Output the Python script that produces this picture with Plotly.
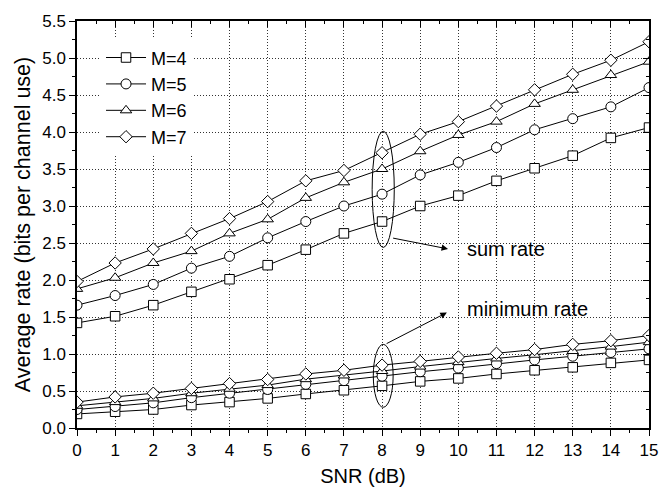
import plotly.graph_objects as go

snr = list(range(16))
m_labels = ["M=4", "M=5", "M=6", "M=7"]
symbols = ["square", "circle", "triangle-up", "diamond"]
marker_sizes = [9.5, 10, 10, 9.5]

sum_m4 = [1.42, 1.51, 1.66, 1.84, 2.01, 2.20, 2.41, 2.63, 2.79, 3.00, 3.14, 3.34, 3.51, 3.68, 3.92, 4.06]
sum_m5 = [1.66, 1.79, 1.94, 2.16, 2.32, 2.57, 2.79, 3.00, 3.16, 3.42, 3.59, 3.79, 4.03, 4.18, 4.34, 4.60]
sum_m6 = [1.88, 2.03, 2.23, 2.39, 2.63, 2.82, 3.11, 3.32, 3.50, 3.74, 3.96, 4.14, 4.38, 4.57, 4.77, 4.95]
sum_m7 = [1.98, 2.23, 2.42, 2.63, 2.83, 3.06, 3.34, 3.48, 3.72, 3.97, 4.14, 4.35, 4.57, 4.78, 4.97, 5.22]

min_m4 = [0.19, 0.22, 0.25, 0.31, 0.35, 0.40, 0.46, 0.51, 0.57, 0.63, 0.67, 0.73, 0.78, 0.82, 0.88, 0.92]
min_m5 = [0.25, 0.29, 0.34, 0.41, 0.47, 0.52, 0.59, 0.64, 0.70, 0.76, 0.81, 0.87, 0.92, 0.97, 1.02, 1.07]
min_m6 = [0.30, 0.35, 0.40, 0.47, 0.53, 0.58, 0.66, 0.71, 0.77, 0.83, 0.89, 0.94, 0.99, 1.04, 1.10, 1.16]
min_m7 = [0.35, 0.42, 0.47, 0.535, 0.60, 0.655, 0.73, 0.78, 0.85, 0.90, 0.96, 1.01, 1.06, 1.13, 1.18, 1.25]

sum_series = [sum_m4, sum_m5, sum_m6, sum_m7]
min_series = [min_m4, min_m5, min_m6, min_m7]

FONT = "Liberation Sans, Arial, sans-serif"

fig = go.Figure()
for lab, sym, ms, ys in zip(m_labels, symbols, marker_sizes, sum_series):
    fig.add_trace(go.Scatter(
        x=snr, y=ys, mode="lines+markers", name=lab,
        line=dict(color="black", width=1),
        marker=dict(symbol=sym, size=ms, color="white", line=dict(color="black", width=1)),
        legendgroup=lab,
    ))
for lab, sym, ms, ys in zip(m_labels, symbols, marker_sizes, min_series):
    fig.add_trace(go.Scatter(
        x=snr, y=ys, mode="lines+markers", name=lab, showlegend=False,
        line=dict(color="black", width=1),
        marker=dict(symbol=sym, size=ms, color="white", line=dict(color="black", width=1)),
        legendgroup=lab,
    ))
# empty trace to hold mirrored (top/right) axes
fig.add_trace(go.Scatter(x=[], y=[], xaxis="x2", yaxis="y2", showlegend=False, hoverinfo="skip"))

# ellipses
fig.add_shape(type="circle", xref="x", yref="y", x0=7.74, x1=8.32, y0=2.44, y1=4.01,
              line=dict(color="black", width=1))
fig.add_shape(type="circle", xref="x", yref="y", x0=7.77, x1=8.29, y0=0.28, y1=1.13,
              line=dict(color="black", width=1))

# arrows
fig.add_annotation(x=9.73, y=2.42, ax=8.25, ay=2.57, xref="x", yref="y", axref="x", ayref="y",
                   text="", showarrow=True, arrowhead=2, arrowsize=1.3, arrowwidth=1, arrowcolor="black")
fig.add_annotation(x=9.70, y=1.56, ax=8.08, ay=1.13, xref="x", yref="y", axref="x", ayref="y",
                   text="", showarrow=True, arrowhead=2, arrowsize=1.3, arrowwidth=1, arrowcolor="black")
fig.add_annotation(x=10.18, y=2.42, xref="x", yref="y", text="sum rate", showarrow=False,
                   xanchor="left", yanchor="middle", font=dict(family=FONT, size=20, color="black"))
fig.add_annotation(x=10.18, y=1.61, xref="x", yref="y", text="minimum rate", showarrow=False,
                   xanchor="left", yanchor="middle", font=dict(family=FONT, size=20, color="black"))

grid = dict(showgrid=True, gridcolor="#333333", gridwidth=1, griddash="1px,2px")

fig.update_layout(
    width=672, height=496,
    margin=dict(l=77, r=23, t=12, b=65),
    paper_bgcolor="white", plot_bgcolor="white",
    font=dict(family=FONT, size=17, color="black"),
    showlegend=True,
    legend=dict(x=0.042, y=0.955, xanchor="left", yanchor="top", bgcolor="white",
                borderwidth=0, font=dict(family=FONT, size=18), itemwidth=40,
                tracegroupgap=0),
    xaxis=dict(range=[0, 15], tickmode="linear", tick0=0, dtick=1,
               showline=True, linecolor="black", linewidth=1.5,
               ticks="outside", ticklen=6, tickwidth=1.2, tickcolor="black",
               minor=dict(ticks="outside", ticklen=3, dtick=0.5, tick0=0, tickcolor="black", showgrid=False),
               title=dict(text="SNR (dB)", font=dict(size=20), standoff=10),
               tickfont=dict(size=17), zeroline=False, **grid),
    yaxis=dict(range=[0, 5.5], tickmode="linear", tick0=0, dtick=0.5, tickformat=".1f",
               showline=True, linecolor="black", linewidth=1.5,
               ticks="outside", ticklen=6, tickwidth=1.2, tickcolor="black",
               minor=dict(ticks="outside", ticklen=3, dtick=0.25, tick0=0, tickcolor="black", showgrid=False),
               title=dict(text="Average rate (bits per channel use)", font=dict(size=21.5), standoff=6),
               tickfont=dict(size=17), zeroline=False, **grid),
    xaxis2=dict(overlaying="x", side="top", range=[0, 15], tickmode="linear", tick0=0, dtick=1,
                showline=True, linecolor="black", linewidth=1.5, showgrid=False, zeroline=False,
                ticks="inside", ticklen=6, tickcolor="black", showticklabels=False,
                minor=dict(ticks="inside", ticklen=3, dtick=0.5, tick0=0, tickcolor="black")),
    yaxis2=dict(overlaying="y", side="right", range=[0, 5.5], tickmode="linear", tick0=0, dtick=0.5,
                showline=True, linecolor="black", linewidth=1.5, showgrid=False, zeroline=False,
                ticks="inside", ticklen=6, tickcolor="black", showticklabels=False,
                minor=dict(ticks="inside", ticklen=3, dtick=0.25, tick0=0, tickcolor="black")),
)

fig.write_html("out.html")
